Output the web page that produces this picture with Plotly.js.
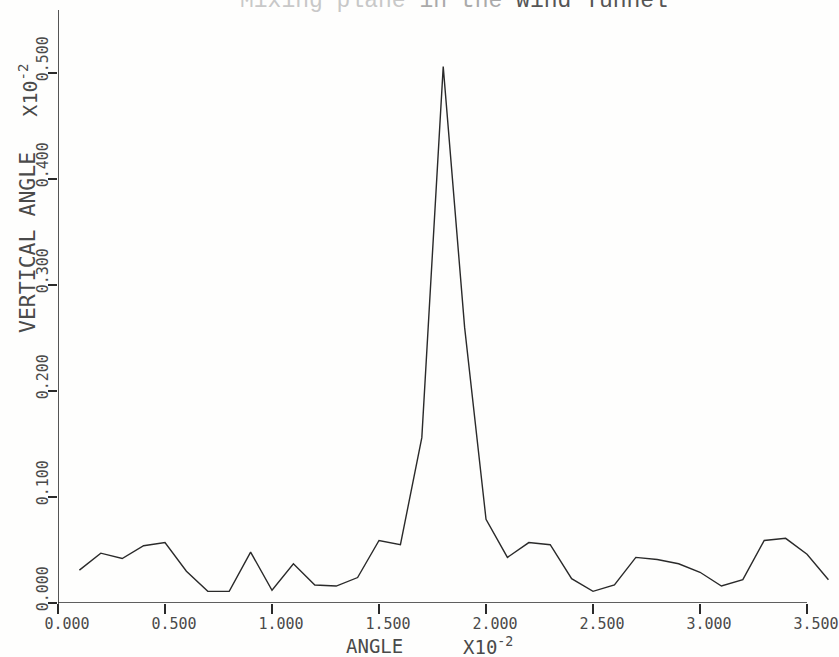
<!DOCTYPE html>
<html>
<head>
<meta charset="utf-8">
<script src="https://cdn.plot.ly/plotly-3.0.1.min.js"></script>
<style>html,body{margin:0;padding:0;background:#fefefd;}</style>
</head>
<body>
<div id="chart" style="width:839px;height:657px;"></div>
<script>
// Data (x in units of 10^-2, y in units of 10^-2)
const angle = [0.1,0.2,0.3,0.4,0.5,0.6,0.7,0.8,0.9,1.0,1.1,1.2,1.3,1.4,1.5,1.6,1.7,1.8,1.9,2.0,
               2.1,2.2,2.3,2.4,2.5,2.6,2.7,2.8,2.9,3.0,3.1,3.2,3.3,3.4,3.5,3.6];
const verticalAngle = [0.031,0.047,0.042,0.054,0.057,0.030,0.011,0.011,0.048,0.012,0.037,0.017,0.016,0.024,0.059,0.055,0.156,0.506,0.26,0.079,
                       0.043,0.057,0.055,0.023,0.011,0.017,0.043,0.041,0.037,0.029,0.016,0.022,0.059,0.061,0.046,0.022];
const xTicks = [0,0.5,1.0,1.5,2.0,2.5,3.0,3.5];
const yTicks = [0,0.1,0.2,0.3,0.4,0.5];
const xTickText = xTicks.map(v => v.toFixed(3));
const yTickText = yTicks.map(v => v.toFixed(3));

const ink = '#2a2a2a';
const labelInk = '#4a4a4a';
const mono = 'DejaVu Sans Mono, monospace';

const trace = {
  x: angle, y: verticalAngle, type: 'scatter', mode: 'lines',
  line: {color: ink, width: 1.4}, hoverinfo: 'skip'
};

const layout = {
  width: 839, height: 657,
  margin: {l: 58, r: 5, t: 10, b: 54},
  paper_bgcolor: '#fefefd', plot_bgcolor: 'rgba(0,0,0,0)',
  showlegend: false,
  xaxis: {
    range: [0, 3.626], showgrid: false, zeroline: false, showline: false,
    tickvals: xTicks, ticktext: xTickText, ticks: 'outside', ticklen: 10,
    tickwidth: 1.5, tickcolor: ink, ticklabelshift: 9, ticklabelstandoff: -3,
    ticklabeloverflow: 'allow',
    tickfont: {family: mono, size: 15, color: labelInk}
  },
  yaxis: {
    range: [0, 0.5594], showgrid: false, zeroline: false, showline: false,
    tickvals: yTicks, ticktext: yTickText, ticks: 'outside', ticklen: 9,
    tickwidth: 1.5, tickcolor: ink, tickangle: -90, ticklabelshift: -12, ticklabelstandoff: -6,
    ticklabeloverflow: 'allow',
    tickfont: {family: mono, size: 15, color: labelInk}
  },
  shapes: [
    {type: 'line', xref: 'x', yref: 'y', x0: xTicks[0], x1: xTicks[xTicks.length-1], y0: 0, y1: 0,
     line: {color: ink, width: 1.6}},
    {type: 'line', xref: 'x', yref: 'paper', x0: 0, x1: 0, y0: -0.006, y1: 1,
     line: {color: ink, width: 1.6}}
  ],
  annotations: [
    {text: 'VERTICAL ANGLE', xref: 'paper', yref: 'paper', x: 0, y: 0.607, xshift: -31,
     xanchor: 'center', yanchor: 'middle',
     textangle: -90, showarrow: false, font: {family: mono, size: 21.5, color: labelInk}},
    {text: 'X10<sup>-2</sup>', xref: 'paper', yref: 'paper', x: 0, y: 0.864, xshift: -30,
     xanchor: 'center', yanchor: 'middle',
     textangle: -90, showarrow: false, font: {family: mono, size: 20, color: labelInk}},
    {text: 'ANGLE', xref: 'x', yref: 'paper', x: 1.477, y: -0.073, yanchor: 'middle',
     showarrow: false, font: {family: mono, size: 19, color: labelInk}},
    {text: 'X10<sup>-2</sup>', xref: 'x', yref: 'paper', x: 2.01, y: -0.073, yanchor: 'middle',
     showarrow: false, font: {family: mono, size: 19, color: labelInk}},
    {text: '<span style="color:#c8c8c8">Mixing plane</span> <span style="color:#aaaaaa">in the</span> <span style="color:#555">wind Tunnel</span>',
     xref: 'paper', yref: 'paper', x: 0.51, y: 1.016, yanchor: 'middle', showarrow: false,
     font: {family: 'Liberation Mono, monospace', size: 23, color: '#555'}}
  ]
};

Plotly.newPlot('chart', [trace], layout, {displayModeBar: false, staticPlot: true});
</script>
</body>
</html>
